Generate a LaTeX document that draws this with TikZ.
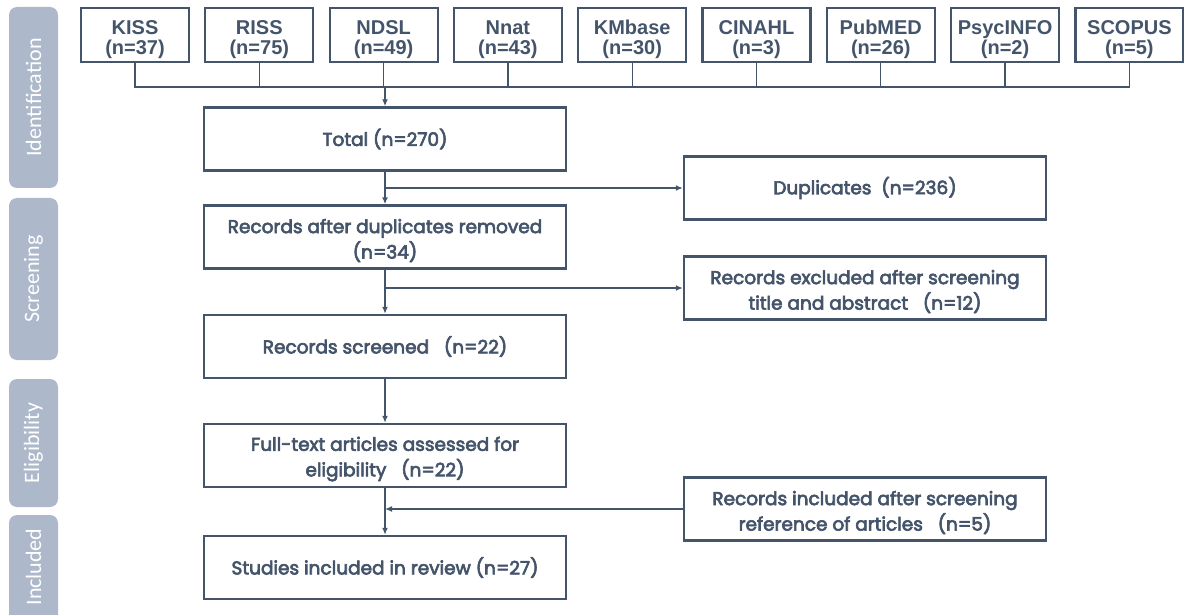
\documentclass[tikz,border=0pt]{standalone}
\usepackage{fontspec}
\setmainfont{Poppins}[FakeBold=3.5]
\newfontfamily\topfont{Liberation Sans}
\newfontfamily\sidefont{Carlito}
\usetikzlibrary{arrows.meta}
\definecolor{ink}{HTML}{44546A}
\definecolor{side}{HTML}{ADB9CA}
\begin{document}
\begin{tikzpicture}[x=1pt,y=-1pt,
  dbbox/.style={draw=ink,line width=2.2pt,minimum width=108pt,minimum height=54pt,inner sep=0pt},
  dbtext/.style={align=center,text=ink,font=\topfont\bfseries\fontsize{20}{20.5}\selectfont,inner sep=0pt},
  mainbox/.style={draw=ink,line width=2.4pt,minimum width=362pt,minimum height=63pt,
    align=center,text=ink,font=\fontsize{18.5}{25.5}\selectfont,inner sep=0pt},
  maintext/.style={align=center,text=ink,font=\fontsize{18.5}{25.5}\selectfont,inner sep=0pt},
  sidebox/.style={fill=side,rounded corners=8pt,minimum width=49pt,inner sep=0pt},
  sidetext/.style={rotate=90,text=white,font=\sidefont\fontsize{22}{24}\selectfont},
  thinline/.style={draw=ink,line width=1.3pt},
  conn/.style={draw=ink,line width=2pt},
  arr/.style={conn,-{Latex[length=7pt,width=6pt]}}]
\useasboundingbox (0,0) rectangle (1184,615);
\begin{scope}
\clip (0,0) rectangle (1184,615);
% side labels
\node[sidebox,minimum height=181pt] (sid) at (33.5,97.5) {};
\node[sidetext] (sidt) at (sid.center) {Identification};
\node[sidebox,minimum height=162pt] (sscr) at (33.5,279) {};
\node[sidetext] (sscrt) at (sscr.center) {Screening};
\node[sidebox,minimum height=128pt] (selig) at (33.5,443) {};
\node[sidetext] (seligt) at (selig.center) {Eligibility};
\node[sidebox,minimum height=120pt] (sinc) at (33.5,575) {};
\node[sidetext] (sinct) at (33.5,567) {Included};
\end{scope}
% database boxes
\foreach \n/\x/\a/\b in {kiss/135/KISS/37, riss/259.3/RISS/75, ndsl/383.6/NDSL/49,
  nnat/507.9/Nnat/43, kmb/632.2/KMbase/30, cin/756.5/CINAHL/3, pub/880.8/PubMED/26,
  psy/1005.1/PsycINFO/2, sco/1129.4/SCOPUS/5}{
  \node[dbbox] (\n) at (\x,35) {};
  \node[dbtext] (\n t) at (\x,39.5) {\a\\(n=\b)};
}
% main column
\node[mainbox] (total) at (385,139) {Total (n=270)};
\node[mainbox] (dedup) at (385,237) {};
\node[maintext] (dedupt) at (385,240.5) {Records after duplicates removed\\(n=34)};
\node[mainbox] (scr) at (385,346.5) {Records screened\ \ \ (n=22)};
\node[mainbox] (full) at (385,455.5) {};
\node[maintext] (fullt) at (385,459) {Full-text articles assessed for\\eligibility\ \ \ (n=22)};
\node[mainbox] (stud) at (385,567.5) {Studies included in review (n=27)};
% right column
\node[mainbox] (dup) at (865,188) {Duplicates\ \ (n=236)};
\node[mainbox] (excl) at (865,288) {};
\node[maintext] (exclt) at (865,291.5) {Records excluded after screening\\title and abstract\ \ \ (n=12)};
\node[mainbox] (incl) at (865,509) {};
\node[maintext] (inclt) at (865,512.5) {Records included after screening\\reference of articles\ \ \ (n=5)};
% top connectors
\coordinate (hub) at (385,87);
\draw[thinline] (kiss.south) |- (hub) -| (sco.south);
\foreach \b in {riss,ndsl,nnat,kmb,cin,pub,psy}{\draw[thinline] (\b.south) -- (\b.south |- hub);}
\draw[arr] (hub) -- (total.north);
% main flow
\draw[arr] (total) -- (dedup);
\coordinate (b1) at (total.south |- dup.west);
\draw[arr] (b1) -- (dup.west);
\draw[arr] (dedup) -- (scr);
\coordinate (b2) at (dedup.south |- excl.west);
\draw[arr] (b2) -- (excl.west);
\draw[arr] (scr) -- (full);
\draw[arr] (full) -- (stud);
\coordinate (m1) at (full.south |- incl.west);
\draw[arr] (incl.west) -- (m1);
\end{tikzpicture}
\end{document}
